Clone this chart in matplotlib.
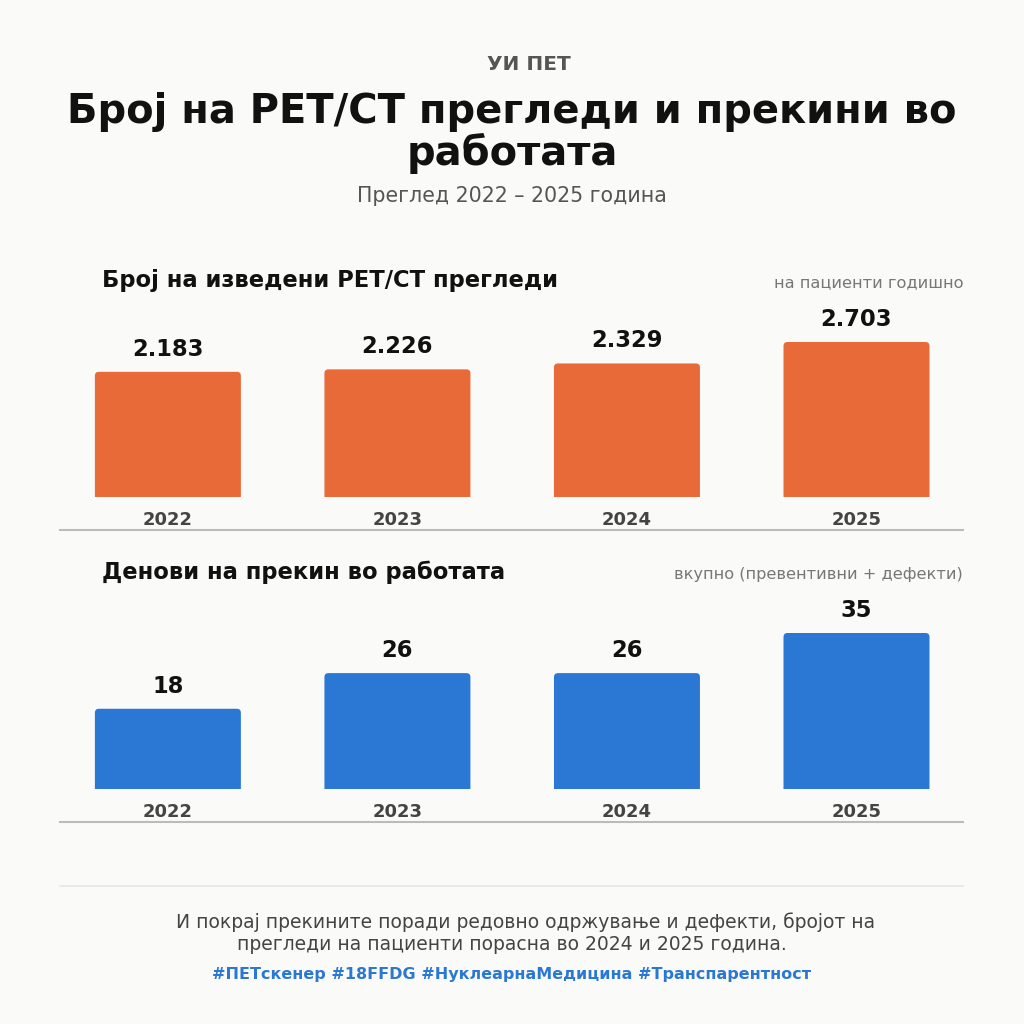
import matplotlib
matplotlib.use("Agg")
import matplotlib.pyplot as plt
from matplotlib.lines import Line2D
from matplotlib.patches import FancyBboxPatch

plt.rcParams['font.family'] = ['DejaVu Sans']

years = ['2022', '2023', '2024', '2025']
scans = [2183, 2226, 2329, 2703]
scan_labels = ['2.183', '2.226', '2.329', '2.703']
downtime = [18, 26, 26, 35]

BG = '#FAFAF8'
ORANGE = '#E96A39'
BLUE = '#2B78D4'

fig = plt.figure(figsize=(10.24, 10.24), dpi=100, facecolor=BG)
W = H = 1024.0

def fx(px):
    return px / W

def fy(py):
    return 1 - py / H

# header
fig.text(fx(529), fy(64), 'УИ ПЕТ', ha='center', va='center', fontsize=14.5,
         fontweight='bold', color='#555555')
fig.text(0.5, fy(133), 'Број на PET/CT прегледи и прекини во\nработата',
         ha='center', va='center', fontsize=28.8, fontweight='bold',
         color='#111111', linespacing=1.03)
fig.text(0.5, fy(196), 'Преглед 2022 – 2025 година', ha='center', va='center',
         fontsize=14.8, color='#555555')


def panel(top_px, bottom_px, values, labels, color, title, note, title_y,
          line_y, maxh_px):
    left, right = 60, 963
    ax = fig.add_axes([fx(left), fy(bottom_px), fx(right - left),
                       (bottom_px - top_px) / H])
    ax.set_facecolor('none')
    x = list(range(len(values)))
    ymax = max(values) * (bottom_px - top_px) / maxh_px
    xmin, xmax = -0.47, 3.464
    ax.set_ylim(0, ymax)
    ax.set_xlim(xmin, xmax)
    bars = ax.bar(x, values, width=0.636, color=color, alpha=0)
    xu = (xmax - xmin) / (right - left)
    yu = ymax / (bottom_px - top_px)
    rad = 4 * xu
    for b in bars:
        p = FancyBboxPatch((b.get_x(), -10 * yu), b.get_width(),
                           b.get_height() + 10 * yu,
                           boxstyle='round,pad=0,rounding_size=%f' % rad,
                           mutation_aspect=yu / xu, color=color, lw=0)
        ax.add_patch(p)
    for xi, v, lab in zip(x, values, labels):
        ax.annotate(lab, (xi, v), xytext=(0, 8), textcoords='offset points',
                    ha='center', va='bottom', fontsize=16.3, fontweight='bold',
                    color='#111111')
    ax.set_xticks(x)
    ax.set_xticklabels(years, fontsize=13, fontweight='bold',
                       color='#444444')
    ax.tick_params(axis='x', length=0, pad=10)
    ax.set_yticks([])
    for s in ax.spines.values():
        s.set_visible(False)
    fig.text(fx(102), fy(title_y), title, ha='left', va='center',
             fontsize=16.3, fontweight='bold', color='#111111')
    fig.text(fx(963), fy(title_y + 2), note, ha='right', va='center',
             fontsize=11.6, color='#777777')
    fig.add_artist(Line2D([fx(left), fx(right)], [fy(line_y), fy(line_y)],
                          color='#BBBBBB', lw=1.5))


panel(300, 497, scans, scan_labels, ORANGE,
      'Број на изведени PET/CT прегледи', 'на пациенти годишно', 281, 530, 155)
panel(590, 789, downtime, [str(v) for v in downtime], BLUE,
      'Денови на прекин во работата', 'вкупно (превентивни + дефекти)', 572,
      822, 156)

# footer
fig.add_artist(Line2D([fx(60), fx(963)], [fy(886), fy(886)],
                      color='#E6E6E6', lw=1.2))
fig.text(fx(526), fy(922), 'И покрај прекините поради редовно одржување и '
         'дефекти, бројот на', ha='center', va='center', fontsize=13.5,
         color='#444444')
fig.text(0.5, fy(945), 'прегледи на пациенти порасна во 2024 и 2025 година.',
         ha='center', va='center', fontsize=13.5, color='#444444')
fig.text(0.5, fy(975), '#ПЕТскенер #18FFDG #НуклеарнаМедицина #Транспарентност',
         ha='center', va='center', fontsize=11.5, fontweight='bold', color=BLUE)

fig.savefig('out.png', dpi=100, facecolor=BG)
